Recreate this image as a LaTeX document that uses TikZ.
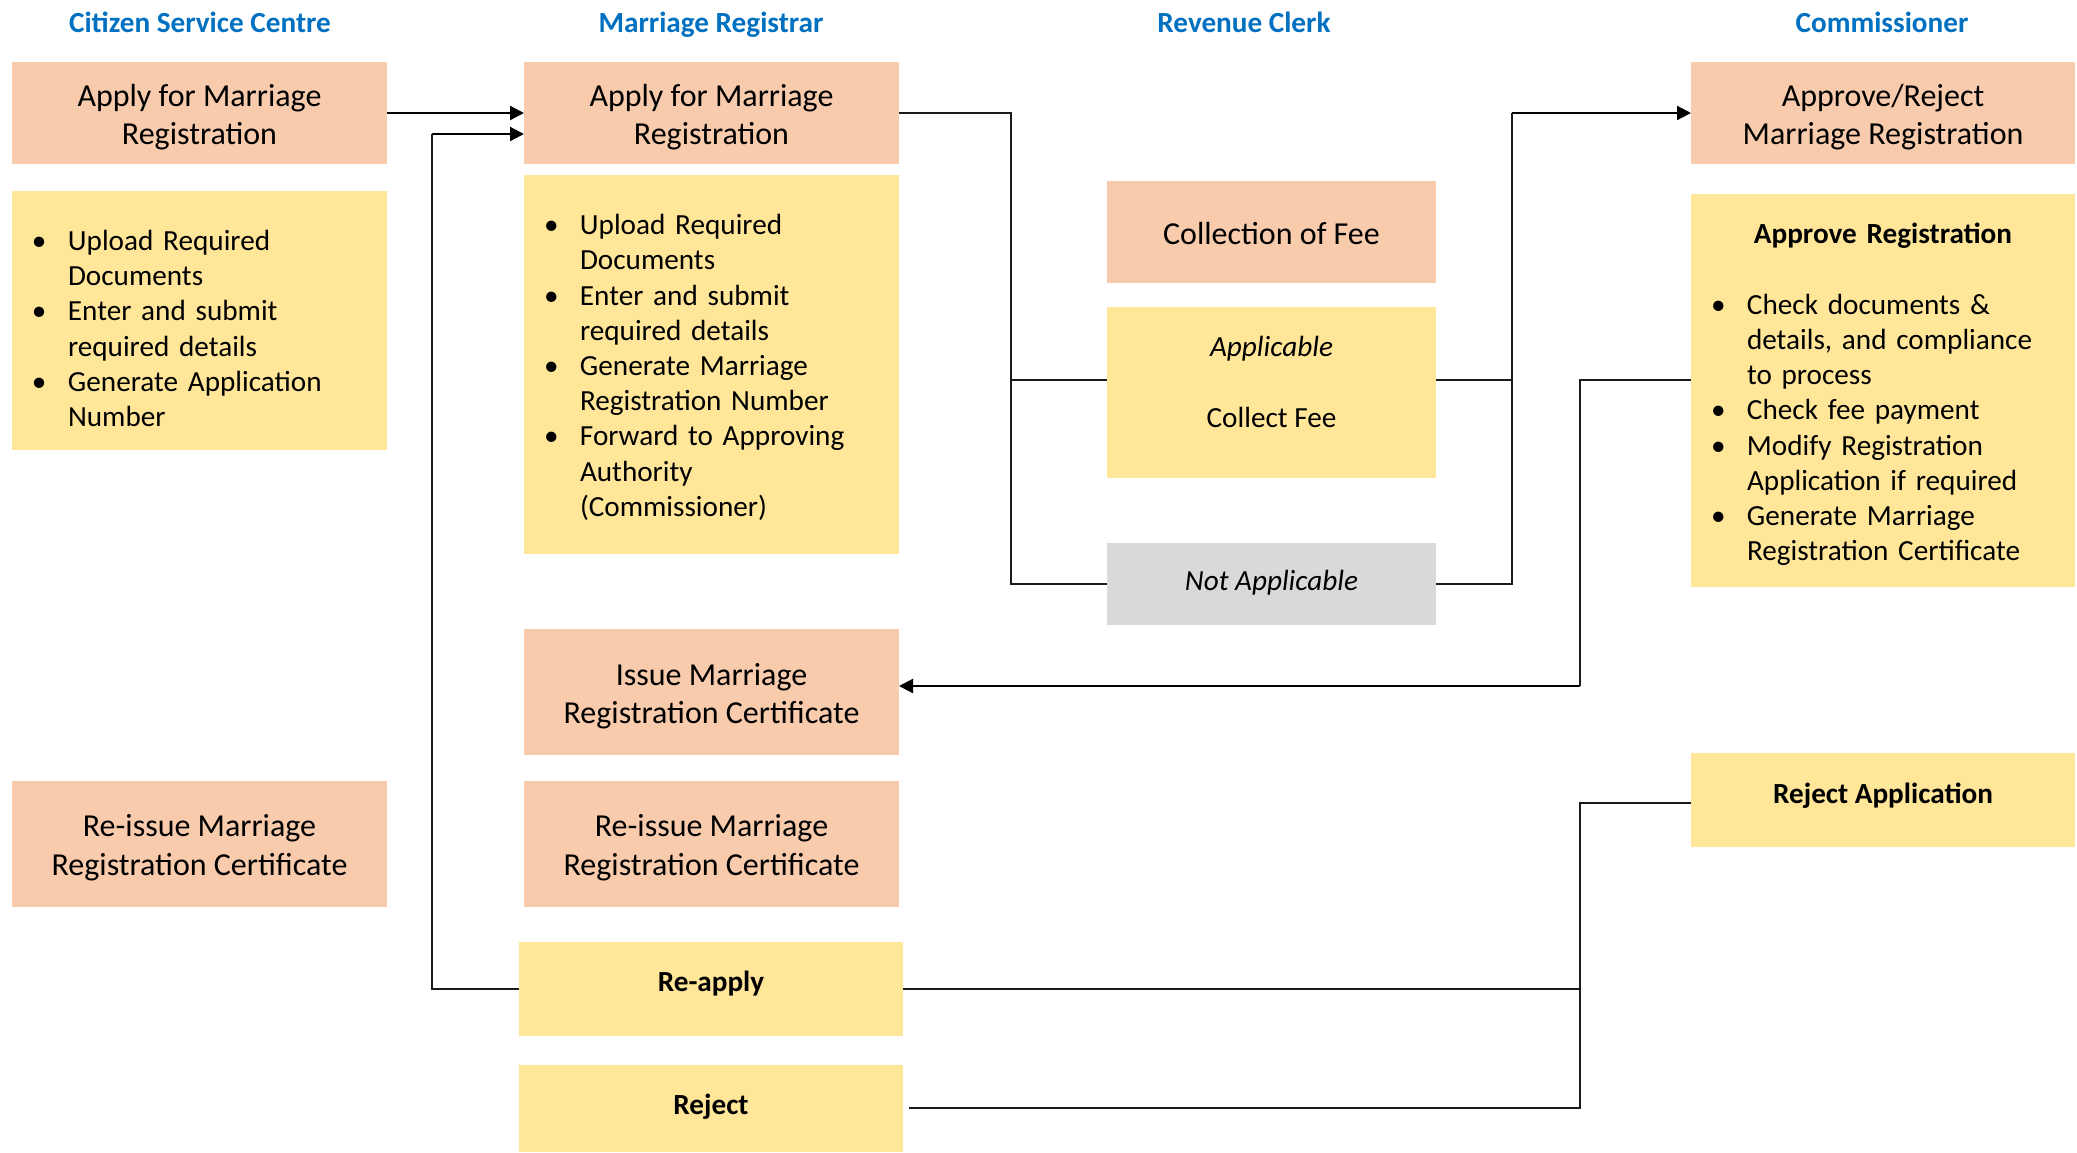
\documentclass[tikz,border=0pt]{standalone}
\usepackage{fontspec}
\setmainfont{Carlito}
\usetikzlibrary{arrows.meta}
\definecolor{peachc}{HTML}{F8CBAD}
\definecolor{yelc}{HTML}{FFE699}
\definecolor{greyc}{HTML}{D9D9D9}
\definecolor{headc}{HTML}{0070C0}
\definecolor{linec}{HTML}{1A1A1A}
\newcommand{\mybul}[1]{\makebox[18pt][l]{\textbullet}#1}
\newcommand{\mycont}[1]{\hspace*{18pt}#1}
\begin{document}
\begin{tikzpicture}[x=0.5pt,y=-0.5pt,
  every node/.style={outer sep=0pt},
  peach/.style={inner sep=0pt, fill=peachc},
  yel/.style={inner sep=0pt, fill=yelc},
  greybox/.style={inner sep=0pt, fill=greyc},
  ptxt/.style={inner sep=0pt, align=center, font=\fontsize{16}{19.2}\selectfont},
  txt/.style={inner sep=0pt, align=center, font=\fontsize{14.6}{17.6}\selectfont},
  btxt/.style={inner xsep=10pt, inner ysep=0pt, align=left, font=\fontsize{14.6}{17.6}\selectfont},
  head/.style={inner sep=0pt, anchor=base, font=\fontsize{14.6}{17.6}\selectfont\bfseries, text=headc},
  thinl/.style={draw=linec, line width=0.6pt},
  arr/.style={draw=black, line width=1.1pt, -{Triangle[length=7pt,width=7pt]}}
]
\useasboundingbox (0,0) rectangle (2077,1152);

% headers
\node[head] (h1) at (200,32.8) {Citizen Service Centre};
\node[head] (h2) at (711,32.8) {Marriage Registrar};
\node[head] (h3) at (1244,32.8) {Revenue Clerk};
\node[head] (h4) at (1882,32.8) {Commissioner};

% Citizen Service Centre
\node[peach, minimum width=187.5pt, minimum height=51pt,
  label={[ptxt, yshift=-2.2pt]center:{Apply for Marriage\\Registration}}] (csa) at (199.5,113) {};
\node[yel, minimum width=187.5pt, minimum height=129.5pt,
  label={[btxt, text width=167.5pt, yshift=-4pt]center:{\mybul{Upload Required}\\\mycont{Documents}\\\mybul{Enter and submit}\\\mycont{required details}\\\mybul{Generate Application}\\\mycont{Number}}}] (csb) at (199.5,320.5) {};
\node[peach, minimum width=187.5pt, minimum height=63pt,
  label={[ptxt, yshift=-1.8pt]center:{Re-issue Marriage\\Registration Certificate}}] (rcs) at (199.5,844) {};

% Marriage Registrar
\node[peach, minimum width=187.5pt, minimum height=51pt,
  label={[ptxt, yshift=-2.2pt]center:{Apply for Marriage\\Registration}}] (mra) at (711.5,113) {};
\node[yel, minimum width=187.5pt, minimum height=189.5pt,
  label={[btxt, text width=167.5pt, yshift=-1.4pt]center:{\mybul{Upload Required}\\\mycont{Documents}\\\mybul{Enter and submit}\\\mycont{required details}\\\mybul{Generate Marriage}\\\mycont{Registration Number}\\\mybul{Forward to Approving}\\\mycont{Authority}\\\mycont{(Commissioner)}}}] (mrb) at (711.5,364.5) {};
\node[peach, minimum width=187.5pt, minimum height=63pt,
  label={[ptxt, yshift=-2pt]center:{Issue Marriage\\Registration Certificate}}] (iss) at (711.5,692) {};
\node[peach, minimum width=187.5pt, minimum height=63pt,
  label={[ptxt, yshift=-1.8pt]center:{Re-issue Marriage\\Registration Certificate}}] (rmr) at (711.5,844) {};
\node[yel, minimum width=192pt, minimum height=47pt,
  label={[txt, yshift=2.6pt]center:\textbf{Re-apply}}] (reap) at (711,989) {};
\node[yel, minimum width=192pt, minimum height=43.5pt,
  label={[txt, yshift=0.8pt]center:\textbf{Reject}}] (rej) at (711,1108.5) {};

% Revenue Clerk
\node[peach, minimum width=164.5pt, minimum height=51pt,
  label={[ptxt, yshift=-0.7pt]center:{Collection of Fee}}] (fee) at (1271.5,232) {};
\node[yel, minimum width=164.5pt, minimum height=85.5pt,
  label={[txt, yshift=5.3pt]center:{\textit{Applicable}\\[17.6pt]Collect Fee}}] (app) at (1271.5,392.5) {};
\node[greybox, minimum width=164.5pt, minimum height=41pt,
  label={[txt, yshift=0.6pt]center:\textit{Not Applicable}}] (nap) at (1271.5,584) {};

% Commissioner
\node[peach, minimum width=192pt, minimum height=51pt,
  label={[ptxt, yshift=-2pt]center:{Approve/Reject\\Marriage Registration}}] (ar) at (1883,113) {};
\node[yel, minimum width=192pt, minimum height=196.5pt,
  label={[btxt, text width=172pt, yshift=-2pt]center:{\makebox[\linewidth]{\bfseries Approve Registration}\\[17.6pt]\mybul{Check documents \&}\\\mycont{details, and compliance}\\\mycont{to process}\\\mybul{Check fee payment}\\\mybul{Modify Registration}\\\mycont{Application if required}\\\mybul{Generate Marriage}\\\mycont{Registration Certificate}}}] (areg) at (1883,390.5) {};
\node[yel, minimum width=192pt, minimum height=47pt,
  label={[txt, yshift=2pt]center:\textbf{Reject Application}}] (rja) at (1883,800) {};

% connectors
\draw[arr] (csa.east) -- (mra.west);

\coordinate (la) at (432,989);
\coordinate (lb) at (432,134);
\draw[thinl] (reap.west) -- (la) -- (lb);
\draw[arr] (lb) -- (lb -| mra.west);

\coordinate (ma) at (1011,113);
\coordinate (mb) at (1011,380);
\coordinate (mc) at (1011,584);
\draw[thinl] (mra.east) -- (ma) -- (mc) -- (nap.west);
\draw[thinl] (mb) -- (mb -| app.west);

\coordinate (ra) at (1512,380);
\coordinate (rb) at (1512,584);
\coordinate (rc) at (1512,113);
\draw[thinl] (ra -| app.east) -- (ra);
\draw[thinl] (nap.east) -- (rb) -- (rc);
\draw[arr] (rc) -- (ar.west);

\coordinate (ca) at (1580,380);
\coordinate (cb) at (1580,686);
\draw[thinl] (ca -| areg.west) -- (ca) -- (cb);
\draw[arr] (cb) -- (cb -| iss.east);

\coordinate (da) at (1580,803);
\coordinate (db) at (1580,1108);
\coordinate (dc) at (1580,989);
\draw[thinl] (da -| rja.west) -- (da) -- (db) -- ([xshift=3pt]db -| rej.east);
\draw[thinl] (dc) -- (reap.east);
\end{tikzpicture}
\end{document}
